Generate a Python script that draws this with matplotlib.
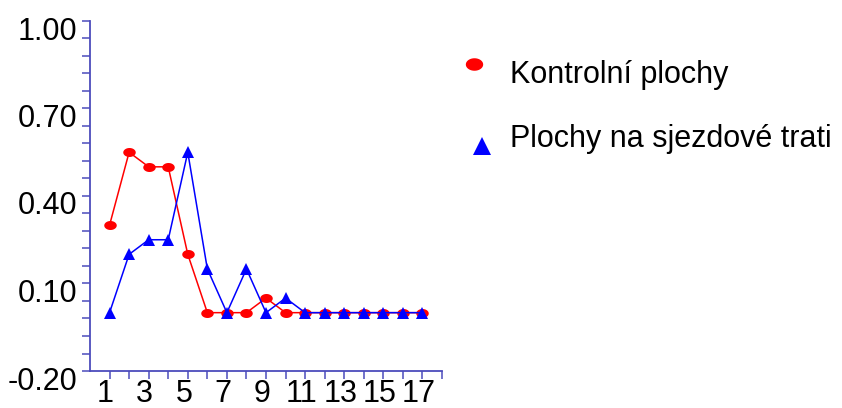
import numpy as np
import matplotlib
matplotlib.use('Agg')
import matplotlib.pyplot as plt
import matplotlib.transforms as mtransforms
from matplotlib.lines import Line2D
from matplotlib.path import Path

# sample plots numbered 1..17
plots = np.arange(1, 18)
control = [0.30, 0.55, 0.50, 0.50, 0.20, 0, 0, 0, 0.05, 0, 0, 0, 0, 0, 0, 0, 0]
ski_run = [0, 0.20, 0.25, 0.25, 0.55, 0.15, 0, 0.15, 0, 0.05, 0, 0, 0, 0, 0, 0, 0]
labels = ['Kontrolní plochy', 'Plochy na sjezdové trati']

y_major = [-0.20, 0.10, 0.40, 0.70, 1.00]
x_labelled = list(range(1, 18, 2))

plt.rcParams['font.family'] = ['Liberation Sans', 'DejaVu Sans']
axis_color = '#4c4cbc'
fs = 22

# flattened circle, the marker gets normalised to its larger side
t = np.linspace(0, 2*np.pi, 60)
ellipse = Path(np.column_stack([np.cos(t), 0.72*np.sin(t)]), closed=True)

W, H, dpi = 842, 408, 100
fig = plt.figure(figsize=(W/dpi, H/dpi), dpi=dpi)
ax = fig.add_axes([90/W, (H-371)/H, (442-90)/W, (371-21)/H])

ax.plot(plots, control, color='red', lw=1.1, marker=ellipse, ms=9.0,
        mec='red', mfc='red', mew=0, clip_on=False)
ax.plot(plots, ski_run, color='blue', lw=1.1, marker='^', ms=8.6,
        mec='blue', mfc='blue', mew=0, clip_on=False)

ax.set_xlim(0, 18)
ax.set_ylim(-0.20, 1.00)

for s in ['top', 'right']:
    ax.spines[s].set_visible(False)
for s in ['left', 'bottom']:
    ax.spines[s].set_color(axis_color)
    ax.spines[s].set_linewidth(1.3)

ax.set_xticks(range(1, 19))
ax.set_xticklabels([str(i) if i in x_labelled else '' for i in range(1, 19)])
ax.set_yticks(np.arange(-0.20, 1.001, 0.06))
ax.set_yticklabels(['%.2f' % v if np.isclose(v, y_major).any() else ''
                    for v in np.arange(-0.20, 1.001, 0.06)])
ax.tick_params(axis='both', direction='out', length=6, width=1.1,
               color=axis_color, labelsize=fs)
ax.tick_params(axis='y', pad=3)
ax.tick_params(axis='x', pad=0)

# labels sit a bit off their ticks
shift_y = mtransforms.ScaledTranslation(0, -7/dpi, fig.dpi_scale_trans)
for lab in ax.get_yticklabels():
    lab.set_transform(lab.get_transform() + shift_y)
shift_x = mtransforms.ScaledTranslation(-4/dpi, 0, fig.dpi_scale_trans)
for lab in ax.get_xticklabels():
    lab.set_transform(lab.get_transform() + shift_x)

# legend drawn by hand, marker set slightly off the text line
def fx(px):
    return px / W

def fy(py):
    return 1 - py / H

fig.add_artist(Line2D([fx(474)], [fy(64)], marker=ellipse, ms=12.5,
                      color='red', mew=0, transform=fig.transFigure))
fig.add_artist(Line2D([fx(482.5)], [fy(146)], marker='^', ms=12.5,
                      color='blue', mew=0, transform=fig.transFigure))
fig.text(fx(510), fy(83.5), labels[0], fontsize=fs, va='baseline', ha='left')
fig.text(fx(510), fy(146.5), labels[1], fontsize=fs, va='baseline', ha='left')

fig.savefig('out.png', dpi=dpi)
